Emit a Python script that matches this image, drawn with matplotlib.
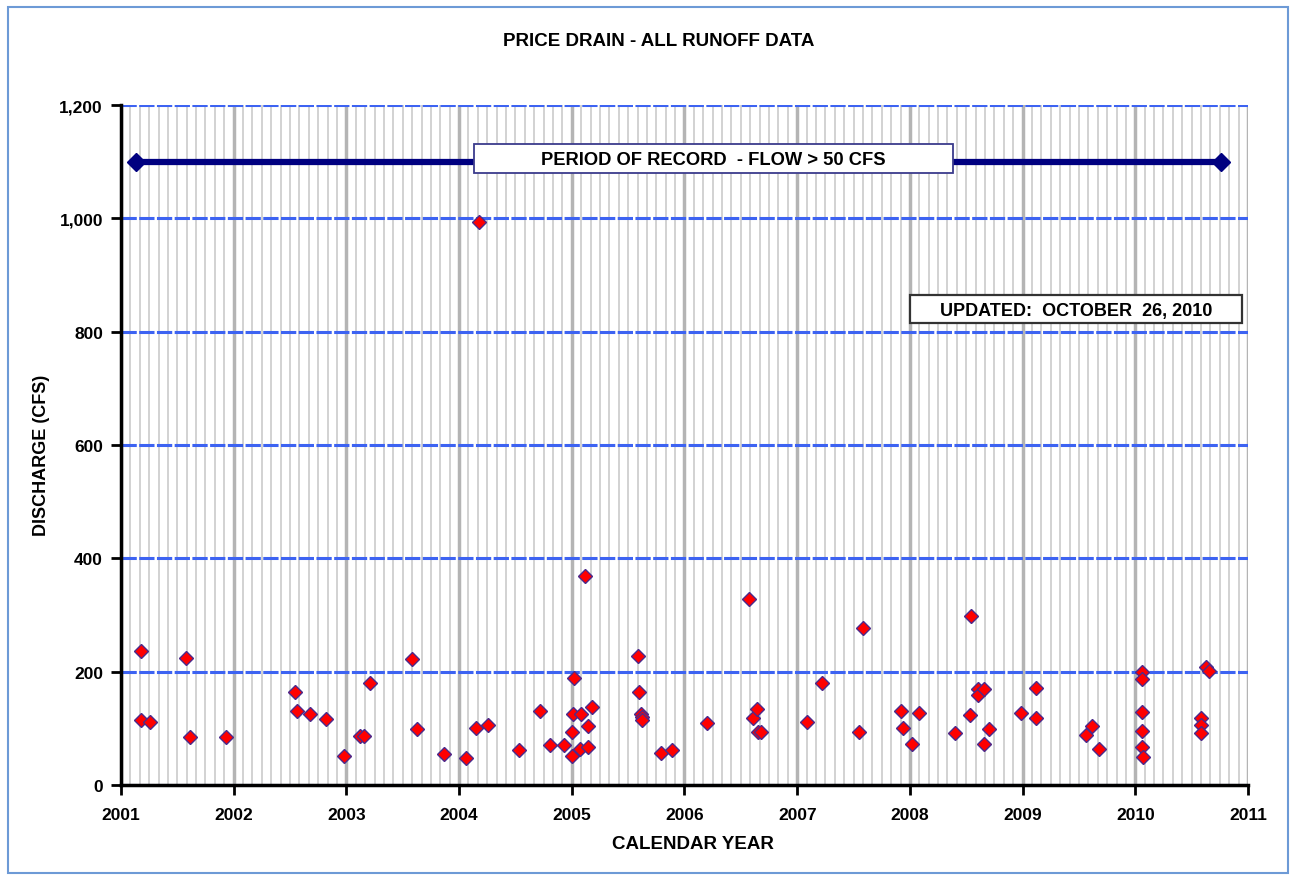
import numpy as np
import matplotlib
matplotlib.use("Agg")
import matplotlib.pyplot as plt
from matplotlib.patches import Rectangle

plt.rcParams['font.family'] = ['Liberation Sans', 'DejaVu Sans']

# Runoff events: decimal calendar year and discharge (cfs)
years = [2001.18, 2001.18, 2001.26, 2001.58, 2001.61, 2001.93,
         2002.54, 2002.56, 2002.68, 2002.82, 2002.98,
         2003.12, 2003.16, 2003.21, 2003.58, 2003.63, 2003.87,
         2004.06, 2004.15, 2004.18, 2004.26, 2004.53, 2004.72, 2004.81, 2004.93,
         2005.00, 2005.00, 2005.01, 2005.02, 2005.07, 2005.08, 2005.12, 2005.14,
         2005.14, 2005.18, 2005.59, 2005.60, 2005.61, 2005.62, 2005.62,
         2005.79, 2005.89, 2006.20, 2006.57, 2006.61, 2006.64, 2006.65, 2006.68,
         2007.09, 2007.22, 2007.55, 2007.58, 2007.92, 2007.94, 2008.02, 2008.08,
         2008.40, 2008.53, 2008.54, 2008.60, 2008.60, 2008.66, 2008.66, 2008.70,
         2008.99, 2009.12, 2009.12, 2009.56, 2009.62, 2009.68,
         2010.06, 2010.06, 2010.06, 2010.06, 2010.06, 2010.07,
         2010.58, 2010.58, 2010.58, 2010.63, 2010.65]
discharge = [236, 115, 112, 224, 85, 85,
             165, 131, 126, 116, 52,
             87, 87, 180, 222, 99, 54,
             48, 100, 994, 106, 62, 131, 70, 70,
             52, 94, 126, 189, 63, 126, 369, 104,
             67, 137, 228, 165, 125, 120, 114,
             56, 62, 109, 328, 118, 135, 93, 93,
             111, 180, 93, 277, 131, 100, 73, 127,
             91, 123, 299, 169, 158, 169, 73, 99,
             127, 171, 118, 89, 104, 64,
             200, 187, 129, 96, 67, 50,
             119, 106, 91, 208, 202]

# Period of record bar
record_span = [2001.13, 2010.76]
record_level = 1100

fig = plt.figure(figsize=(12.91, 8.79), dpi=100)
ax = fig.add_axes([0.0937, 0.1058, 0.873, 0.7736])

# Monthly and yearly vertical grid
ax.set_xlim(2001, 2011)
ax.set_ylim(0, 1200)
ax.set_xticks(range(2001, 2012))
ax.set_xticks(np.arange(2001, 2011, 1 / 12), minor=True)
ax.set_yticks(range(0, 1201, 200))
ax.grid(which='minor', axis='x', color='#cfcfcf', linewidth=1.3)
ax.grid(which='major', axis='x', color='#b4b4b4', linewidth=2.5)
ax.grid(which='major', axis='y', color='#3d63f2', linewidth=2.2, linestyle=(0, (5, 0.8)))
ax.set_axisbelow(True)

ax.yaxis.set_major_formatter(matplotlib.ticker.StrMethodFormatter('{x:,.0f}'))
ax.tick_params(which='minor', length=0)
ax.tick_params(which='major', direction='out', length=7, width=2, labelsize=12.5)
ax.tick_params(axis='y', pad=6)
ax.tick_params(axis='x', pad=8.5)
for lbl in ax.get_xticklabels() + ax.get_yticklabels():
    lbl.set_fontweight('bold')

for side in ['top', 'right']:
    ax.spines[side].set_visible(False)
for side in ['left', 'bottom']:
    ax.spines[side].set_linewidth(2.5)

# Period of record line
ax.plot(record_span, [record_level, record_level], color='#000080', linewidth=4.5,
        marker='D', markersize=9, clip_on=False, zorder=3)

# Data points
ax.plot(years, discharge, linestyle='none', marker='D', markersize=6.8,
        markerfacecolor='#ff0000', markeredgecolor='#4b2a8c', markeredgewidth=1.0,
        zorder=4)

# Annotation boxes
ax.add_patch(Rectangle((2004.13, 1080), 4.25, 51, facecolor='white',
                       edgecolor='#3c3c8c', linewidth=1.3, zorder=5))
ax.text(2006.255, 1104, 'PERIOD OF RECORD  - FLOW > 50 CFS', ha='center', va='center',
        fontsize=13.2, fontweight='bold', zorder=6)
ax.add_patch(Rectangle((2008.0, 815), 2.95, 49.5, facecolor='white',
                       edgecolor='#333333', linewidth=1.6, zorder=5))
ax.text(2009.475, 838, 'UPDATED:  OCTOBER  26, 2010', ha='center', va='center',
        fontsize=13, fontweight='bold', zorder=6)

# Axis titles and chart title
fig.text(0.5368, 0.0387, 'CALENDAR YEAR', ha='center', va='center',
         fontsize=13.5, fontweight='bold')
fig.text(0.0325, 0.4824, 'DISCHARGE (CFS)', ha='center', va='center', rotation=90,
         fontsize=13, fontweight='bold')
fig.text(0.51, 0.953, 'PRICE DRAIN - ALL RUNOFF DATA', ha='center', va='center',
         fontsize=13.5, fontweight='bold')

# Outer chart frame
fig.patches.append(Rectangle((0.006, 0.006), 0.992, 0.985, transform=fig.transFigure,
                             fill=False, edgecolor='#6d9ad6', linewidth=1.5))

fig.savefig('out.png', dpi=100)
